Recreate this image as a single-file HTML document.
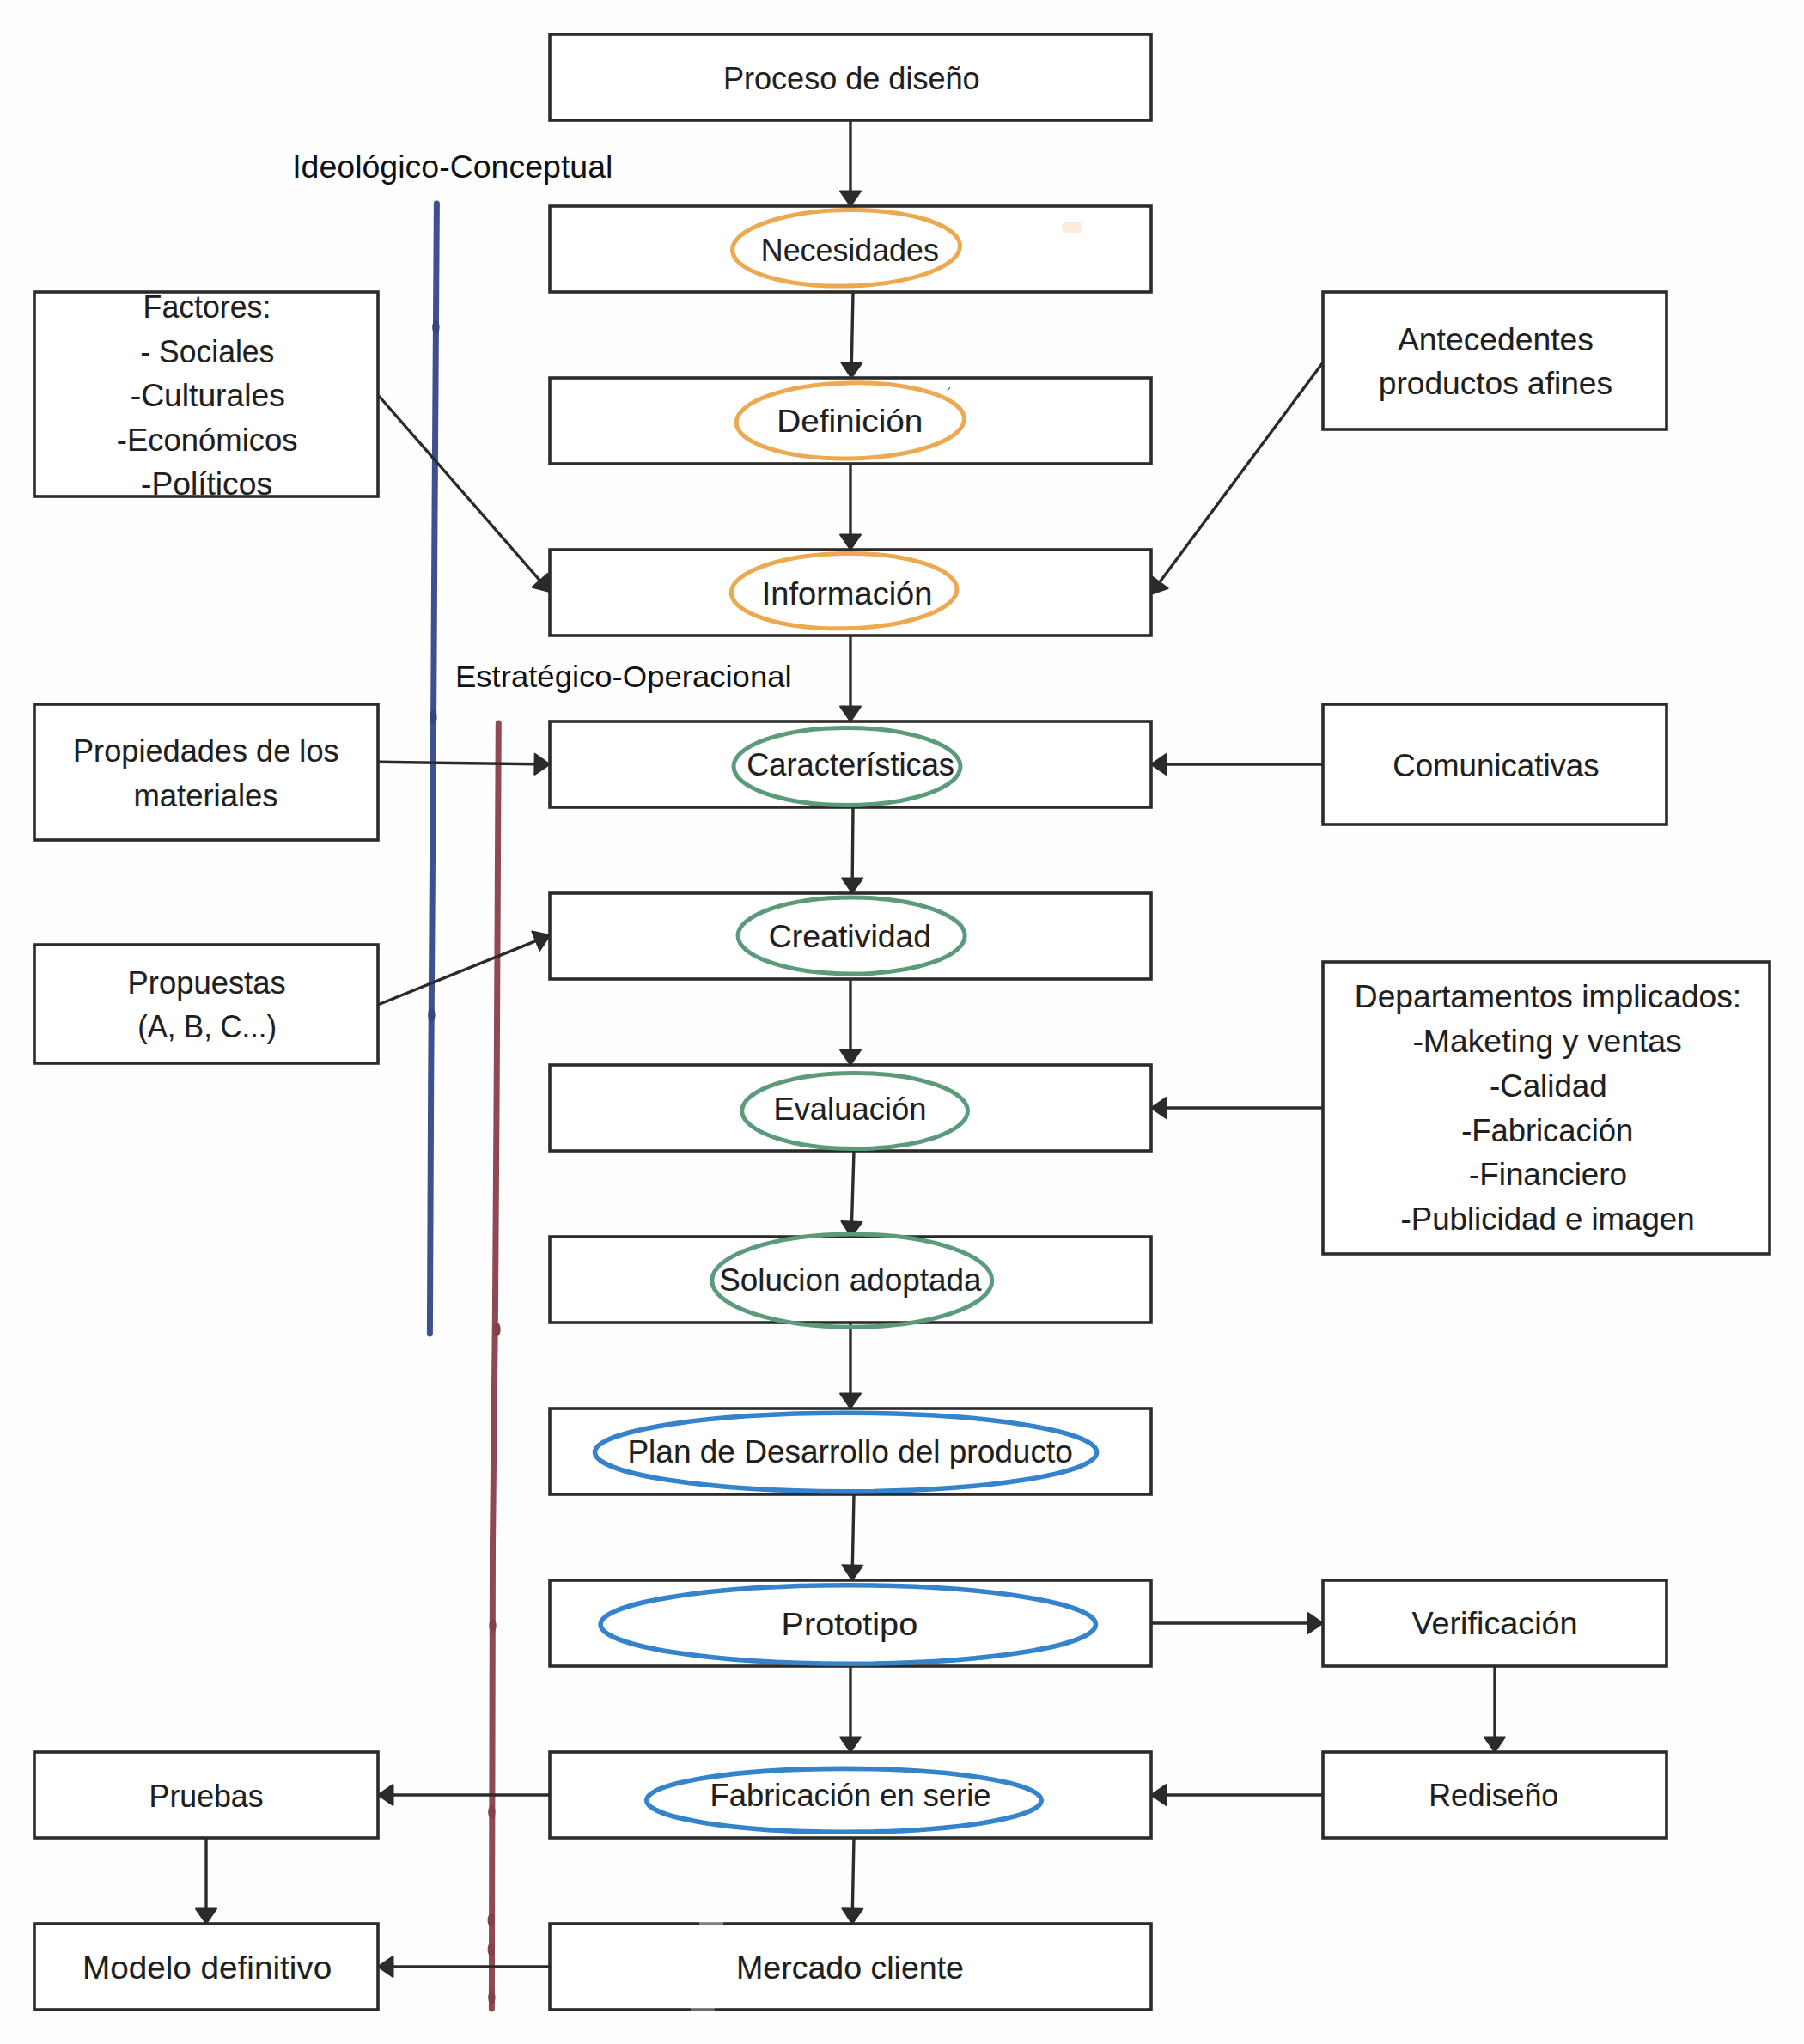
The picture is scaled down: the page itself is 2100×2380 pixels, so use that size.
<!DOCTYPE html>
<html><head><meta charset="utf-8">
<style>
html,body{margin:0;padding:0;background:#fff;}
body{width:2100px;height:2380px;overflow:hidden;}
svg{display:block;font-family:"Liberation Sans",sans-serif;}
</style></head>
<body>
<svg width="2100" height="2380" viewBox="0 0 2100 2380">
<rect width="2100" height="2380" fill="#fefefe"/>
<polyline points="508.4,237 506,600 504.4,870 501.7,1260 500.4,1553" fill="none" stroke="#3e508f" stroke-width="7" stroke-linecap="round" stroke-linejoin="round"/>
<polyline points="580.3,842 578.2,1260 576.4,1530 573.5,1800 572.4,2339" fill="none" stroke="#904852" stroke-width="7" stroke-linecap="round" stroke-linejoin="round"/>
<ellipse cx="507.4" cy="381" rx="4.2" ry="8" fill="#34457f"/>
<ellipse cx="504.4" cy="835" rx="4.2" ry="8" fill="#34457f"/>
<ellipse cx="502.4" cy="1182" rx="4.2" ry="8" fill="#34457f"/>
<ellipse cx="578.5" cy="1548" rx="4.2" ry="8" fill="#84404a"/>
<ellipse cx="573.5" cy="1893" rx="4.2" ry="8" fill="#84404a"/>
<ellipse cx="572.4" cy="2110" rx="4.2" ry="8" fill="#84404a"/>
<ellipse cx="571.8" cy="2236" rx="4.2" ry="8" fill="#84404a"/>
<ellipse cx="571.8" cy="2270" rx="4.2" ry="8" fill="#84404a"/>
<ellipse cx="572.4" cy="2326" rx="4.2" ry="8" fill="#84404a"/>
<line x1="990.0" y1="140.0" x2="990.0" y2="224.5" stroke="#2b2b2b" stroke-width="3.4"/>
<polygon points="990.0,240.0 978.0,222.5 1002.0,222.5" fill="#2b2b2b" stroke="#2b2b2b" stroke-width="2" stroke-linejoin="round"/>
<line x1="993.0" y1="340.0" x2="991.3" y2="424.5" stroke="#2b2b2b" stroke-width="3.4"/>
<polygon points="991.0,440.0 979.4,422.3 1003.3,422.7" fill="#2b2b2b" stroke="#2b2b2b" stroke-width="2" stroke-linejoin="round"/>
<line x1="990.0" y1="540.0" x2="990.0" y2="624.5" stroke="#2b2b2b" stroke-width="3.4"/>
<polygon points="990.0,640.0 978.0,622.5 1002.0,622.5" fill="#2b2b2b" stroke="#2b2b2b" stroke-width="2" stroke-linejoin="round"/>
<line x1="990.0" y1="740.0" x2="990.0" y2="824.5" stroke="#2b2b2b" stroke-width="3.4"/>
<polygon points="990.0,840.0 978.0,822.5 1002.0,822.5" fill="#2b2b2b" stroke="#2b2b2b" stroke-width="2" stroke-linejoin="round"/>
<line x1="993.0" y1="940.0" x2="992.2" y2="1024.5" stroke="#2b2b2b" stroke-width="3.4"/>
<polygon points="992.0,1040.0 980.2,1022.4 1004.2,1022.6" fill="#2b2b2b" stroke="#2b2b2b" stroke-width="2" stroke-linejoin="round"/>
<line x1="990.0" y1="1140.0" x2="990.0" y2="1224.5" stroke="#2b2b2b" stroke-width="3.4"/>
<polygon points="990.0,1240.0 978.0,1222.5 1002.0,1222.5" fill="#2b2b2b" stroke="#2b2b2b" stroke-width="2" stroke-linejoin="round"/>
<line x1="994.0" y1="1340.0" x2="991.5" y2="1424.5" stroke="#2b2b2b" stroke-width="3.4"/>
<polygon points="991.0,1440.0 979.5,1422.1 1003.5,1422.9" fill="#2b2b2b" stroke="#2b2b2b" stroke-width="2" stroke-linejoin="round"/>
<line x1="990.0" y1="1540.0" x2="990.0" y2="1624.5" stroke="#2b2b2b" stroke-width="3.4"/>
<polygon points="990.0,1640.0 978.0,1622.5 1002.0,1622.5" fill="#2b2b2b" stroke="#2b2b2b" stroke-width="2" stroke-linejoin="round"/>
<line x1="994.0" y1="1740.0" x2="992.3" y2="1824.5" stroke="#2b2b2b" stroke-width="3.4"/>
<polygon points="992.0,1840.0 980.4,1822.3 1004.3,1822.7" fill="#2b2b2b" stroke="#2b2b2b" stroke-width="2" stroke-linejoin="round"/>
<line x1="990.0" y1="1940.0" x2="990.0" y2="2024.5" stroke="#2b2b2b" stroke-width="3.4"/>
<polygon points="990.0,2040.0 978.0,2022.5 1002.0,2022.5" fill="#2b2b2b" stroke="#2b2b2b" stroke-width="2" stroke-linejoin="round"/>
<line x1="994.0" y1="2140.0" x2="992.3" y2="2224.5" stroke="#2b2b2b" stroke-width="3.4"/>
<polygon points="992.0,2240.0 980.4,2222.3 1004.3,2222.7" fill="#2b2b2b" stroke="#2b2b2b" stroke-width="2" stroke-linejoin="round"/>
<line x1="441.0" y1="461.0" x2="629.8" y2="677.3" stroke="#2b2b2b" stroke-width="3.4"/>
<polygon points="640.0,689.0 619.5,683.7 637.5,667.9" fill="#2b2b2b" stroke="#2b2b2b" stroke-width="2" stroke-linejoin="round"/>
<line x1="1540.0" y1="422.0" x2="1348.7" y2="679.6" stroke="#2b2b2b" stroke-width="3.4"/>
<polygon points="1339.5,692.0 1340.3,670.8 1359.6,685.1" fill="#2b2b2b" stroke="#2b2b2b" stroke-width="2" stroke-linejoin="round"/>
<line x1="441.0" y1="887.3" x2="624.5" y2="889.8" stroke="#2b2b2b" stroke-width="3.4"/>
<polygon points="640.0,890.0 622.3,901.8 622.7,877.8" fill="#2b2b2b" stroke="#2b2b2b" stroke-width="2" stroke-linejoin="round"/>
<line x1="441.0" y1="1169.5" x2="625.6" y2="1094.8" stroke="#2b2b2b" stroke-width="3.4"/>
<polygon points="640.0,1089.0 628.3,1106.7 619.3,1084.4" fill="#2b2b2b" stroke="#2b2b2b" stroke-width="2" stroke-linejoin="round"/>
<line x1="1540.0" y1="890.0" x2="1355.5" y2="890.0" stroke="#2b2b2b" stroke-width="3.4"/>
<polygon points="1340.0,890.0 1357.5,878.0 1357.5,902.0" fill="#2b2b2b" stroke="#2b2b2b" stroke-width="2" stroke-linejoin="round"/>
<line x1="1540.0" y1="1290.0" x2="1355.5" y2="1290.0" stroke="#2b2b2b" stroke-width="3.4"/>
<polygon points="1340.0,1290.0 1357.5,1278.0 1357.5,1302.0" fill="#2b2b2b" stroke="#2b2b2b" stroke-width="2" stroke-linejoin="round"/>
<line x1="1340.0" y1="1890.0" x2="1524.5" y2="1890.0" stroke="#2b2b2b" stroke-width="3.4"/>
<polygon points="1540.0,1890.0 1522.5,1902.0 1522.5,1878.0" fill="#2b2b2b" stroke="#2b2b2b" stroke-width="2" stroke-linejoin="round"/>
<line x1="1740.0" y1="1940.0" x2="1740.0" y2="2024.5" stroke="#2b2b2b" stroke-width="3.4"/>
<polygon points="1740.0,2040.0 1728.0,2022.5 1752.0,2022.5" fill="#2b2b2b" stroke="#2b2b2b" stroke-width="2" stroke-linejoin="round"/>
<line x1="1540.0" y1="2090.0" x2="1355.5" y2="2090.0" stroke="#2b2b2b" stroke-width="3.4"/>
<polygon points="1340.0,2090.0 1357.5,2078.0 1357.5,2102.0" fill="#2b2b2b" stroke="#2b2b2b" stroke-width="2" stroke-linejoin="round"/>
<line x1="640.0" y1="2090.0" x2="455.5" y2="2090.0" stroke="#2b2b2b" stroke-width="3.4"/>
<polygon points="440.0,2090.0 457.5,2078.0 457.5,2102.0" fill="#2b2b2b" stroke="#2b2b2b" stroke-width="2" stroke-linejoin="round"/>
<line x1="240.0" y1="2140.0" x2="240.0" y2="2224.5" stroke="#2b2b2b" stroke-width="3.4"/>
<polygon points="240.0,2240.0 228.0,2222.5 252.0,2222.5" fill="#2b2b2b" stroke="#2b2b2b" stroke-width="2" stroke-linejoin="round"/>
<line x1="640.0" y1="2290.0" x2="455.5" y2="2290.0" stroke="#2b2b2b" stroke-width="3.4"/>
<polygon points="440.0,2290.0 457.5,2278.0 457.5,2302.0" fill="#2b2b2b" stroke="#2b2b2b" stroke-width="2" stroke-linejoin="round"/>
<rect x="640" y="40" width="700" height="100" fill="#fff" stroke="#2b2b2b" stroke-width="3.6"/>
<rect x="640" y="240" width="700" height="100" fill="#fff" stroke="#2b2b2b" stroke-width="3.6"/>
<rect x="640" y="440" width="700" height="100" fill="#fff" stroke="#2b2b2b" stroke-width="3.6"/>
<rect x="640" y="640" width="700" height="100" fill="#fff" stroke="#2b2b2b" stroke-width="3.6"/>
<rect x="640" y="840" width="700" height="100" fill="#fff" stroke="#2b2b2b" stroke-width="3.6"/>
<rect x="640" y="1040" width="700" height="100" fill="#fff" stroke="#2b2b2b" stroke-width="3.6"/>
<rect x="640" y="1240" width="700" height="100" fill="#fff" stroke="#2b2b2b" stroke-width="3.6"/>
<rect x="640" y="1440" width="700" height="100" fill="#fff" stroke="#2b2b2b" stroke-width="3.6"/>
<rect x="640" y="1640" width="700" height="100" fill="#fff" stroke="#2b2b2b" stroke-width="3.6"/>
<rect x="640" y="1840" width="700" height="100" fill="#fff" stroke="#2b2b2b" stroke-width="3.6"/>
<rect x="640" y="2040" width="700" height="100" fill="#fff" stroke="#2b2b2b" stroke-width="3.6"/>
<rect x="640" y="2240" width="700" height="100" fill="#fff" stroke="#2b2b2b" stroke-width="3.6"/>
<rect x="40" y="340" width="400" height="238" fill="#fff" stroke="#2b2b2b" stroke-width="3.6"/>
<rect x="40" y="820" width="400" height="158" fill="#fff" stroke="#2b2b2b" stroke-width="3.6"/>
<rect x="40" y="1100" width="400" height="138" fill="#fff" stroke="#2b2b2b" stroke-width="3.6"/>
<rect x="40" y="2040" width="400" height="100" fill="#fff" stroke="#2b2b2b" stroke-width="3.6"/>
<rect x="40" y="2240" width="400" height="100" fill="#fff" stroke="#2b2b2b" stroke-width="3.6"/>
<rect x="1540" y="340" width="400" height="160" fill="#fff" stroke="#2b2b2b" stroke-width="3.6"/>
<rect x="1540" y="820" width="400" height="140" fill="#fff" stroke="#2b2b2b" stroke-width="3.6"/>
<rect x="1540" y="1120" width="520" height="340" fill="#fff" stroke="#2b2b2b" stroke-width="3.6"/>
<rect x="1540" y="1840" width="400" height="100" fill="#fff" stroke="#2b2b2b" stroke-width="3.6"/>
<rect x="1540" y="2040" width="400" height="100" fill="#fff" stroke="#2b2b2b" stroke-width="3.6"/>
<ellipse cx="985.0" cy="288.8" rx="132.5" ry="44.2" fill="none" stroke="#eda94f" stroke-width="5.0" transform="rotate(-1.1 985.0 288.8)"/>
<ellipse cx="989.8" cy="489.9" rx="132.7" ry="44.0" fill="none" stroke="#eda94f" stroke-width="5.0" transform="rotate(-1 989.8 489.9)"/>
<ellipse cx="982.6" cy="688.1" rx="131.4" ry="43.6" fill="none" stroke="#eda94f" stroke-width="5.0" transform="rotate(-1 982.6 688.1)"/>
<ellipse cx="986.0" cy="892.5" rx="132.0" ry="45.0" fill="none" stroke="#5b9b7b" stroke-width="5.0" transform="rotate(0 986.0 892.5)"/>
<ellipse cx="991.1" cy="1089.5" rx="132.1" ry="44.5" fill="none" stroke="#5b9b7b" stroke-width="5.0" transform="rotate(0 991.1 1089.5)"/>
<ellipse cx="995.1" cy="1293.5" rx="131.4" ry="44.0" fill="none" stroke="#5b9b7b" stroke-width="5.0" transform="rotate(0 995.1 1293.5)"/>
<ellipse cx="991.8" cy="1491.1" rx="163.0" ry="54.1" fill="none" stroke="#5b9b7b" stroke-width="5.0" transform="rotate(0 991.8 1491.1)"/>
<ellipse cx="984.6" cy="1691.0" rx="292.1" ry="45.7" fill="none" stroke="#3483cc" stroke-width="5.6" transform="rotate(0 984.6 1691.0)"/>
<ellipse cx="987.3" cy="1891.5" rx="288.2" ry="45.7" fill="none" stroke="#3483cc" stroke-width="5.6" transform="rotate(0 987.3 1891.5)"/>
<ellipse cx="982.4" cy="2096.3" rx="229.8" ry="36.9" fill="none" stroke="#3483cc" stroke-width="5.6" transform="rotate(0 982.4 2096.3)"/>
<rect x="1236" y="258" width="24" height="13" rx="6" fill="#fde6d0" opacity="0.8"/>
<rect x="814" y="2237.5" width="28" height="5" fill="#fefefe" opacity="0.4"/>
<rect x="804" y="2337.5" width="28" height="5" fill="#fefefe" opacity="0.3"/>
<line x1="1103" y1="455" x2="1106" y2="451" stroke="#555" stroke-width="1.2"/>
<text x="842.00" y="103.5" textLength="298.60" lengthAdjust="spacingAndGlyphs" font-size="37.5" fill="#1f1f1f" stroke="#1f1f1f" stroke-width="0.15">Proceso de diseño</text>
<text x="885.80" y="303.5" textLength="207.00" lengthAdjust="spacingAndGlyphs" font-size="37.5" fill="#1f1f1f" stroke="#1f1f1f" stroke-width="0.15">Necesidades</text>
<text x="904.20" y="503.4" textLength="170.20" lengthAdjust="spacingAndGlyphs" font-size="37.5" fill="#1f1f1f" stroke="#1f1f1f" stroke-width="0.15">Definición</text>
<text x="886.80" y="703.8" textLength="198.60" lengthAdjust="spacingAndGlyphs" font-size="37.5" fill="#1f1f1f" stroke="#1f1f1f" stroke-width="0.15">Información</text>
<text x="869.20" y="903.1" textLength="241.80" lengthAdjust="spacingAndGlyphs" font-size="37.5" fill="#1f1f1f" stroke="#1f1f1f" stroke-width="0.15">Características</text>
<text x="894.80" y="1103.4" textLength="189.40" lengthAdjust="spacingAndGlyphs" font-size="37.5" fill="#1f1f1f" stroke="#1f1f1f" stroke-width="0.15">Creatividad</text>
<text x="900.40" y="1304.0" textLength="178.00" lengthAdjust="spacingAndGlyphs" font-size="37.5" fill="#1f1f1f" stroke="#1f1f1f" stroke-width="0.15">Evaluación</text>
<text x="837.20" y="1503.0" textLength="305.20" lengthAdjust="spacingAndGlyphs" font-size="37.5" fill="#1f1f1f" stroke="#1f1f1f" stroke-width="0.15">Solucion adoptada</text>
<text x="730.40" y="1703.4" textLength="518.40" lengthAdjust="spacingAndGlyphs" font-size="37.5" fill="#1f1f1f" stroke="#1f1f1f" stroke-width="0.15">Plan de Desarrollo del producto</text>
<text x="909.60" y="1904.0" textLength="158.60" lengthAdjust="spacingAndGlyphs" font-size="37.5" fill="#1f1f1f" stroke="#1f1f1f" stroke-width="0.15">Prototipo</text>
<text x="826.60" y="2103.0" textLength="326.80" lengthAdjust="spacingAndGlyphs" font-size="37.5" fill="#1f1f1f" stroke="#1f1f1f" stroke-width="0.15">Fabricación en serie</text>
<text x="857.00" y="2303.8" textLength="265.00" lengthAdjust="spacingAndGlyphs" font-size="37.5" fill="#1f1f1f" stroke="#1f1f1f" stroke-width="0.15">Mercado cliente</text>
<text x="166.60" y="369.8" textLength="148.80" lengthAdjust="spacingAndGlyphs" font-size="37.5" fill="#1f1f1f" stroke="#1f1f1f" stroke-width="0.15">Factores:</text>
<text x="163.40" y="421.5" textLength="156.00" lengthAdjust="spacingAndGlyphs" font-size="37.5" fill="#1f1f1f" stroke="#1f1f1f" stroke-width="0.15">- Sociales</text>
<text x="151.80" y="472.7" textLength="180.00" lengthAdjust="spacingAndGlyphs" font-size="37.5" fill="#1f1f1f" stroke="#1f1f1f" stroke-width="0.15">-Culturales</text>
<text x="135.80" y="525.0" textLength="210.80" lengthAdjust="spacingAndGlyphs" font-size="37.5" fill="#1f1f1f" stroke="#1f1f1f" stroke-width="0.15">-Económicos</text>
<text x="164.00" y="576.3" textLength="153.00" lengthAdjust="spacingAndGlyphs" font-size="37.5" fill="#1f1f1f" stroke="#1f1f1f" stroke-width="0.15">-Políticos</text>
<text x="85.00" y="887.3" textLength="309.60" lengthAdjust="spacingAndGlyphs" font-size="37.5" fill="#1f1f1f" stroke="#1f1f1f" stroke-width="0.15">Propiedades de los</text>
<text x="155.40" y="938.5" textLength="168.20" lengthAdjust="spacingAndGlyphs" font-size="37.5" fill="#1f1f1f" stroke="#1f1f1f" stroke-width="0.15">materiales</text>
<text x="148.60" y="1157.0" textLength="184.00" lengthAdjust="spacingAndGlyphs" font-size="37.5" fill="#1f1f1f" stroke="#1f1f1f" stroke-width="0.15">Propuestas</text>
<text x="160.20" y="1208.2" textLength="161.80" lengthAdjust="spacingAndGlyphs" font-size="37.5" fill="#1f1f1f" stroke="#1f1f1f" stroke-width="0.15">(A, B, C...)</text>
<text x="173.60" y="2103.8" textLength="133.00" lengthAdjust="spacingAndGlyphs" font-size="37.5" fill="#1f1f1f" stroke="#1f1f1f" stroke-width="0.15">Pruebas</text>
<text x="96.00" y="2303.7" textLength="290.20" lengthAdjust="spacingAndGlyphs" font-size="37.5" fill="#1f1f1f" stroke="#1f1f1f" stroke-width="0.15">Modelo definitivo</text>
<text x="1627.00" y="407.9" textLength="228.00" lengthAdjust="spacingAndGlyphs" font-size="37.5" fill="#1f1f1f" stroke="#1f1f1f" stroke-width="0.15">Antecedentes</text>
<text x="1604.80" y="459.0" textLength="272.20" lengthAdjust="spacingAndGlyphs" font-size="37.5" fill="#1f1f1f" stroke="#1f1f1f" stroke-width="0.15">productos afines</text>
<text x="1621.20" y="904.2" textLength="240.40" lengthAdjust="spacingAndGlyphs" font-size="37.5" fill="#1f1f1f" stroke="#1f1f1f" stroke-width="0.15">Comunicativas</text>
<text x="1576.80" y="1172.5" textLength="450.40" lengthAdjust="spacingAndGlyphs" font-size="37.5" fill="#1f1f1f" stroke="#1f1f1f" stroke-width="0.15">Departamentos implicados:</text>
<text x="1644.40" y="1224.8" textLength="313.40" lengthAdjust="spacingAndGlyphs" font-size="37.5" fill="#1f1f1f" stroke="#1f1f1f" stroke-width="0.15">-Maketing y ventas</text>
<text x="1734.00" y="1276.7" textLength="136.60" lengthAdjust="spacingAndGlyphs" font-size="37.5" fill="#1f1f1f" stroke="#1f1f1f" stroke-width="0.15">-Calidad</text>
<text x="1701.20" y="1328.6" textLength="200.00" lengthAdjust="spacingAndGlyphs" font-size="37.5" fill="#1f1f1f" stroke="#1f1f1f" stroke-width="0.15">-Fabricación</text>
<text x="1710.00" y="1380.0" textLength="184.00" lengthAdjust="spacingAndGlyphs" font-size="37.5" fill="#1f1f1f" stroke="#1f1f1f" stroke-width="0.15">-Financiero</text>
<text x="1630.60" y="1431.9" textLength="342.00" lengthAdjust="spacingAndGlyphs" font-size="37.5" fill="#1f1f1f" stroke="#1f1f1f" stroke-width="0.15">-Publicidad e imagen</text>
<text x="1643.40" y="1902.7" textLength="193.20" lengthAdjust="spacingAndGlyphs" font-size="37.5" fill="#1f1f1f" stroke="#1f1f1f" stroke-width="0.15">Verificación</text>
<text x="1663.20" y="2103.3" textLength="151.00" lengthAdjust="spacingAndGlyphs" font-size="37.5" fill="#1f1f1f" stroke="#1f1f1f" stroke-width="0.15">Rediseño</text>
<text x="340.20" y="207.2" textLength="373.20" lengthAdjust="spacingAndGlyphs" font-size="36" fill="#111" stroke="#111" stroke-width="0">Ideológico-Conceptual</text>
<text x="530.00" y="800.4" textLength="391.60" lengthAdjust="spacingAndGlyphs" font-size="34.5" fill="#111" stroke="#111" stroke-width="0">Estratégico-Operacional</text>
</svg>
</body></html>
